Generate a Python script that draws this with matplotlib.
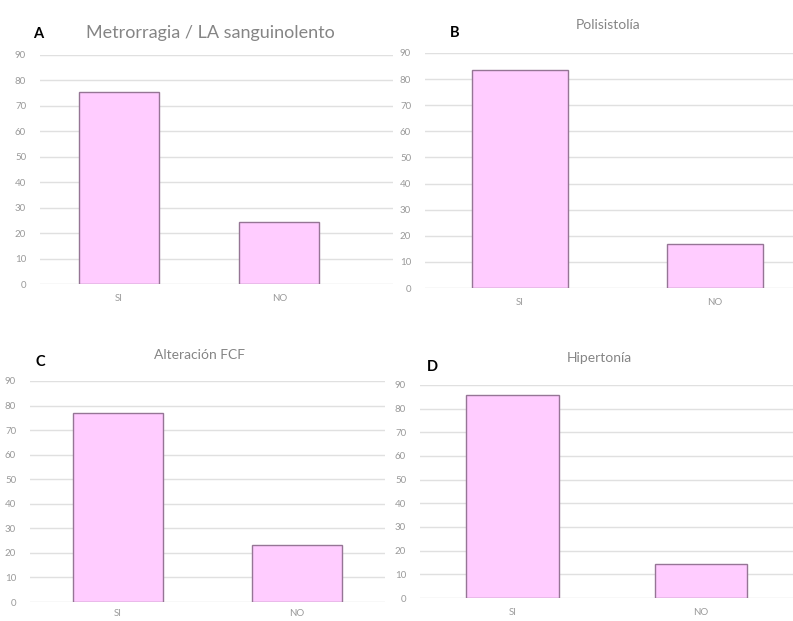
import matplotlib
matplotlib.use("Agg")
import matplotlib.pyplot as plt

plt.rcParams["font.family"] = ["Lato", "DejaVu Sans"]

# categories shared by all panels
categories = ["SI", "NO"]

# percentages
metrorragia = [75.6, 24.4]
polisistolia = [83.3, 16.7]
alteracion_fcf = [76.9, 23.1]
hipertonia = [85.7, 14.3]

titles = ["Metrorragia / LA sanguinolento", "Polisistolía", "Alteración FCF", "Hipertonía"]
letters = ["A", "B", "C", "D"]
yticks = list(range(0, 100, 10))

W, H = 793, 621
BAR_COLOR = "#FFCCFF"
EDGE_COLOR = "#957595"
GRID_COLOR = "#E0E0E0"
TICK_GRAY = "#9A9A9A"
TITLE_GRAY = "#858585"

fig = plt.figure(figsize=(W / 100, H / 100), dpi=100)
fig.patch.set_facecolor("white")


def px_axes(x0, y0, x1, y1):
    # pixel box (top-left origin) -> figure fraction
    return fig.add_axes([x0 / W, 1 - y1 / H, (x1 - x0) / W, (y1 - y0) / H])


# panel layout: grid box in pixels, xlim, bar width, title pos/size, letter pos
panels = [
    dict(values=metrorragia, box=(40, 55, 393, 284), xlim=(-0.494, 1.71), width=0.5,
         title_xy=(210, 33), title_size=13, letter_xy=(38, 34), tick_pad=7),
    dict(values=polisistolia, box=(425, 53, 793, 288), xlim=(-0.488, 1.40), width=0.49,
         title_xy=(608, 25), title_size=10, letter_xy=(455, 33), tick_pad=7),
    dict(values=alteracion_fcf, box=(30, 381, 385, 602), xlim=(-0.49, 1.49), width=0.5,
         title_xy=(200, 355), title_size=10, letter_xy=(40, 362), tick_pad=5),
    dict(values=hipertonia, box=(420, 385, 793, 598), xlim=(-0.49, 1.488), width=0.49,
         title_xy=(599, 358), title_size=10, letter_xy=(432, 367), tick_pad=7),
]

for p, title, letter in zip(panels, titles, letters):
    ax = px_axes(*p["box"])
    ax.bar(range(len(categories)), p["values"], width=p["width"],
           color=BAR_COLOR, edgecolor=EDGE_COLOR, linewidth=1.0, zorder=3)
    ax.set_ylim(0, 90)
    ax.set_xlim(*p["xlim"])
    ax.set_yticks(yticks)
    ax.set_xticks(range(len(categories)))
    ax.set_xticklabels(categories)
    ax.yaxis.grid(True, color=GRID_COLOR, linewidth=1.0, zorder=0)
    ax.set_axisbelow(True)
    for s in ax.spines.values():
        s.set_visible(False)
    ax.tick_params(axis="both", length=0, labelsize=7, colors=TICK_GRAY)
    ax.tick_params(axis="x", pad=p["tick_pad"])
    ax.tick_params(axis="y", pad=10)
    ax.set_facecolor("none")

    tx, ty = p["title_xy"]
    fig.text(tx / W, 1 - ty / H, title, ha="center", va="center",
             fontsize=p["title_size"], color=TITLE_GRAY)
    lx, ly = p["letter_xy"]
    fig.text(lx / W, 1 - ly / H, letter, ha="center", va="center",
             fontsize=10.5, fontweight="bold", color="black")

fig.savefig("out.png", dpi=100)
